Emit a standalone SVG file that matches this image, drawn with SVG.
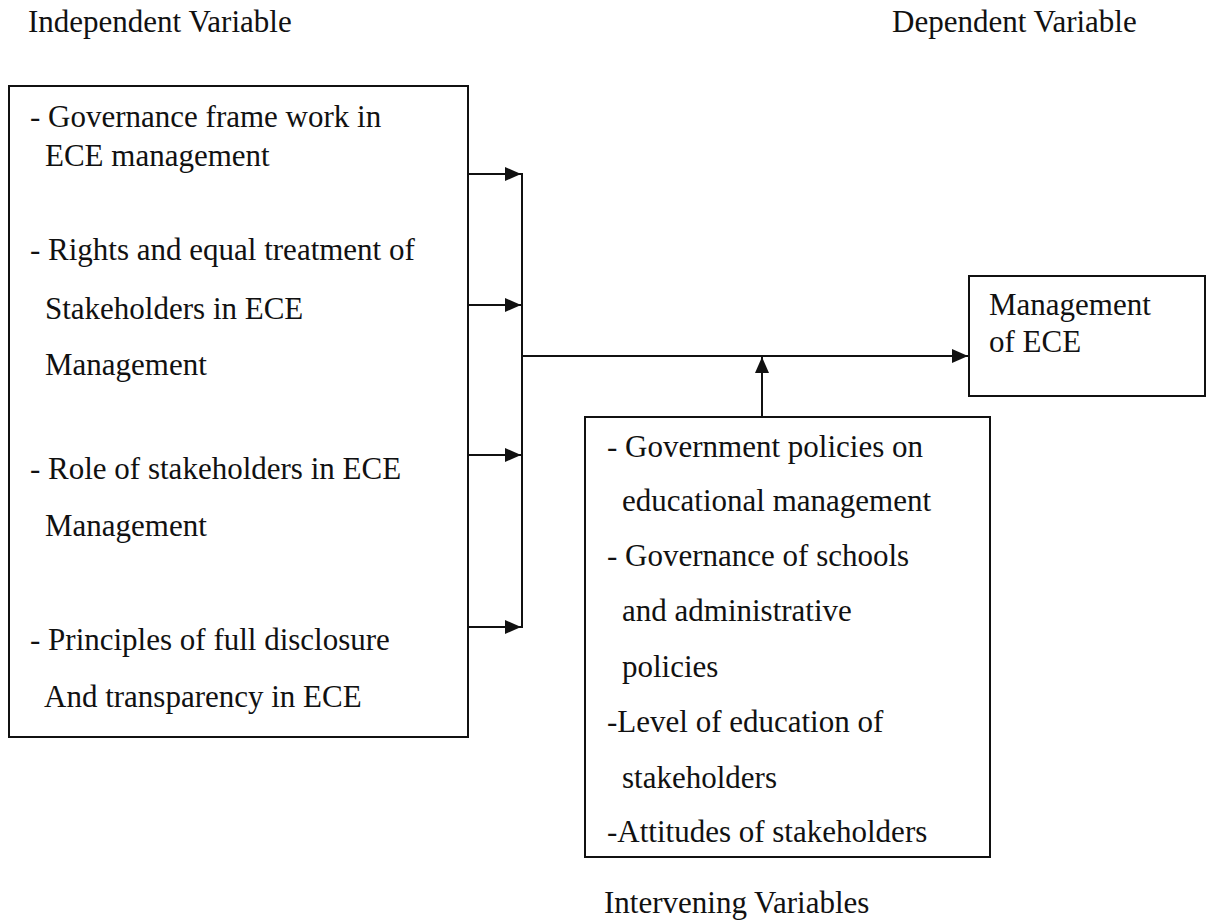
<svg xmlns="http://www.w3.org/2000/svg" width="1207" height="922" viewBox="0 0 1207 922" font-family="Liberation Serif, Times New Roman, Times, serif">
<style>
text{font-family:'Liberation Serif','Times New Roman',Times,serif;font-size:31px;fill:#111}
.box{fill:#fff;stroke:#111;stroke-width:2}
.ln{fill:none;stroke:#111;stroke-width:2}
</style>
<defs>
<marker id="ah" markerUnits="userSpaceOnUse" markerWidth="16" markerHeight="16" viewBox="0 0 16 16" refX="16" refY="8" orient="auto">
<path d="M0,1 L16,8 L0,15 Z" fill="#111"/>
</marker>
</defs>
<rect width="1207" height="922" fill="#fff"/>
<g id="headers">
<text x="28" y="32">Independent Variable</text>
<text x="892" y="32">Dependent Variable</text>
<text x="604" y="913">Intervening Variables</text>
</g>
<g id="independent">
<rect class="box" x="9" y="86" width="459" height="651"/>
<text x="30" y="127">- Governance frame work in</text>
<text x="45" y="166">ECE management</text>
<text x="30" y="260">- Rights and equal treatment of</text>
<text x="45" y="319">Stakeholders in ECE</text>
<text x="45" y="375">Management</text>
<text x="30" y="479">- Role of stakeholders in ECE</text>
<text x="45" y="536">Management</text>
<text x="30" y="650">- Principles of full disclosure</text>
<text x="44" y="707">And transparency in ECE</text>
</g>
<g id="dependent">
<rect class="box" x="969" y="276" width="236" height="120"/>
<text x="989" y="315">Management</text>
<text x="989" y="352">of ECE</text>
</g>
<g id="intervening">
<rect class="box" x="585" y="417" width="405" height="440"/>
<text x="607" y="457">- Government policies on</text>
<text x="622" y="511">educational management</text>
<text x="607" y="566">- Governance of schools</text>
<text x="622" y="621">and administrative</text>
<text x="622" y="677">policies</text>
<text x="607" y="732">-Level of education of</text>
<text x="622" y="788">stakeholders</text>
<text x="607" y="842">-Attitudes of stakeholders</text>
</g>
<g id="connectors">
<line class="ln" x1="468" y1="174" x2="521" y2="174" marker-end="url(#ah)"/>
<line class="ln" x1="468" y1="305" x2="521" y2="305" marker-end="url(#ah)"/>
<line class="ln" x1="468" y1="455" x2="521" y2="455" marker-end="url(#ah)"/>
<line class="ln" x1="468" y1="627" x2="521" y2="627" marker-end="url(#ah)"/>
<line class="ln" x1="522" y1="173" x2="522" y2="628"/>
<line class="ln" x1="523" y1="356" x2="968" y2="356" marker-end="url(#ah)"/>
<line class="ln" x1="762" y1="417" x2="762" y2="357" marker-end="url(#ah)"/>
</g>
</svg>
